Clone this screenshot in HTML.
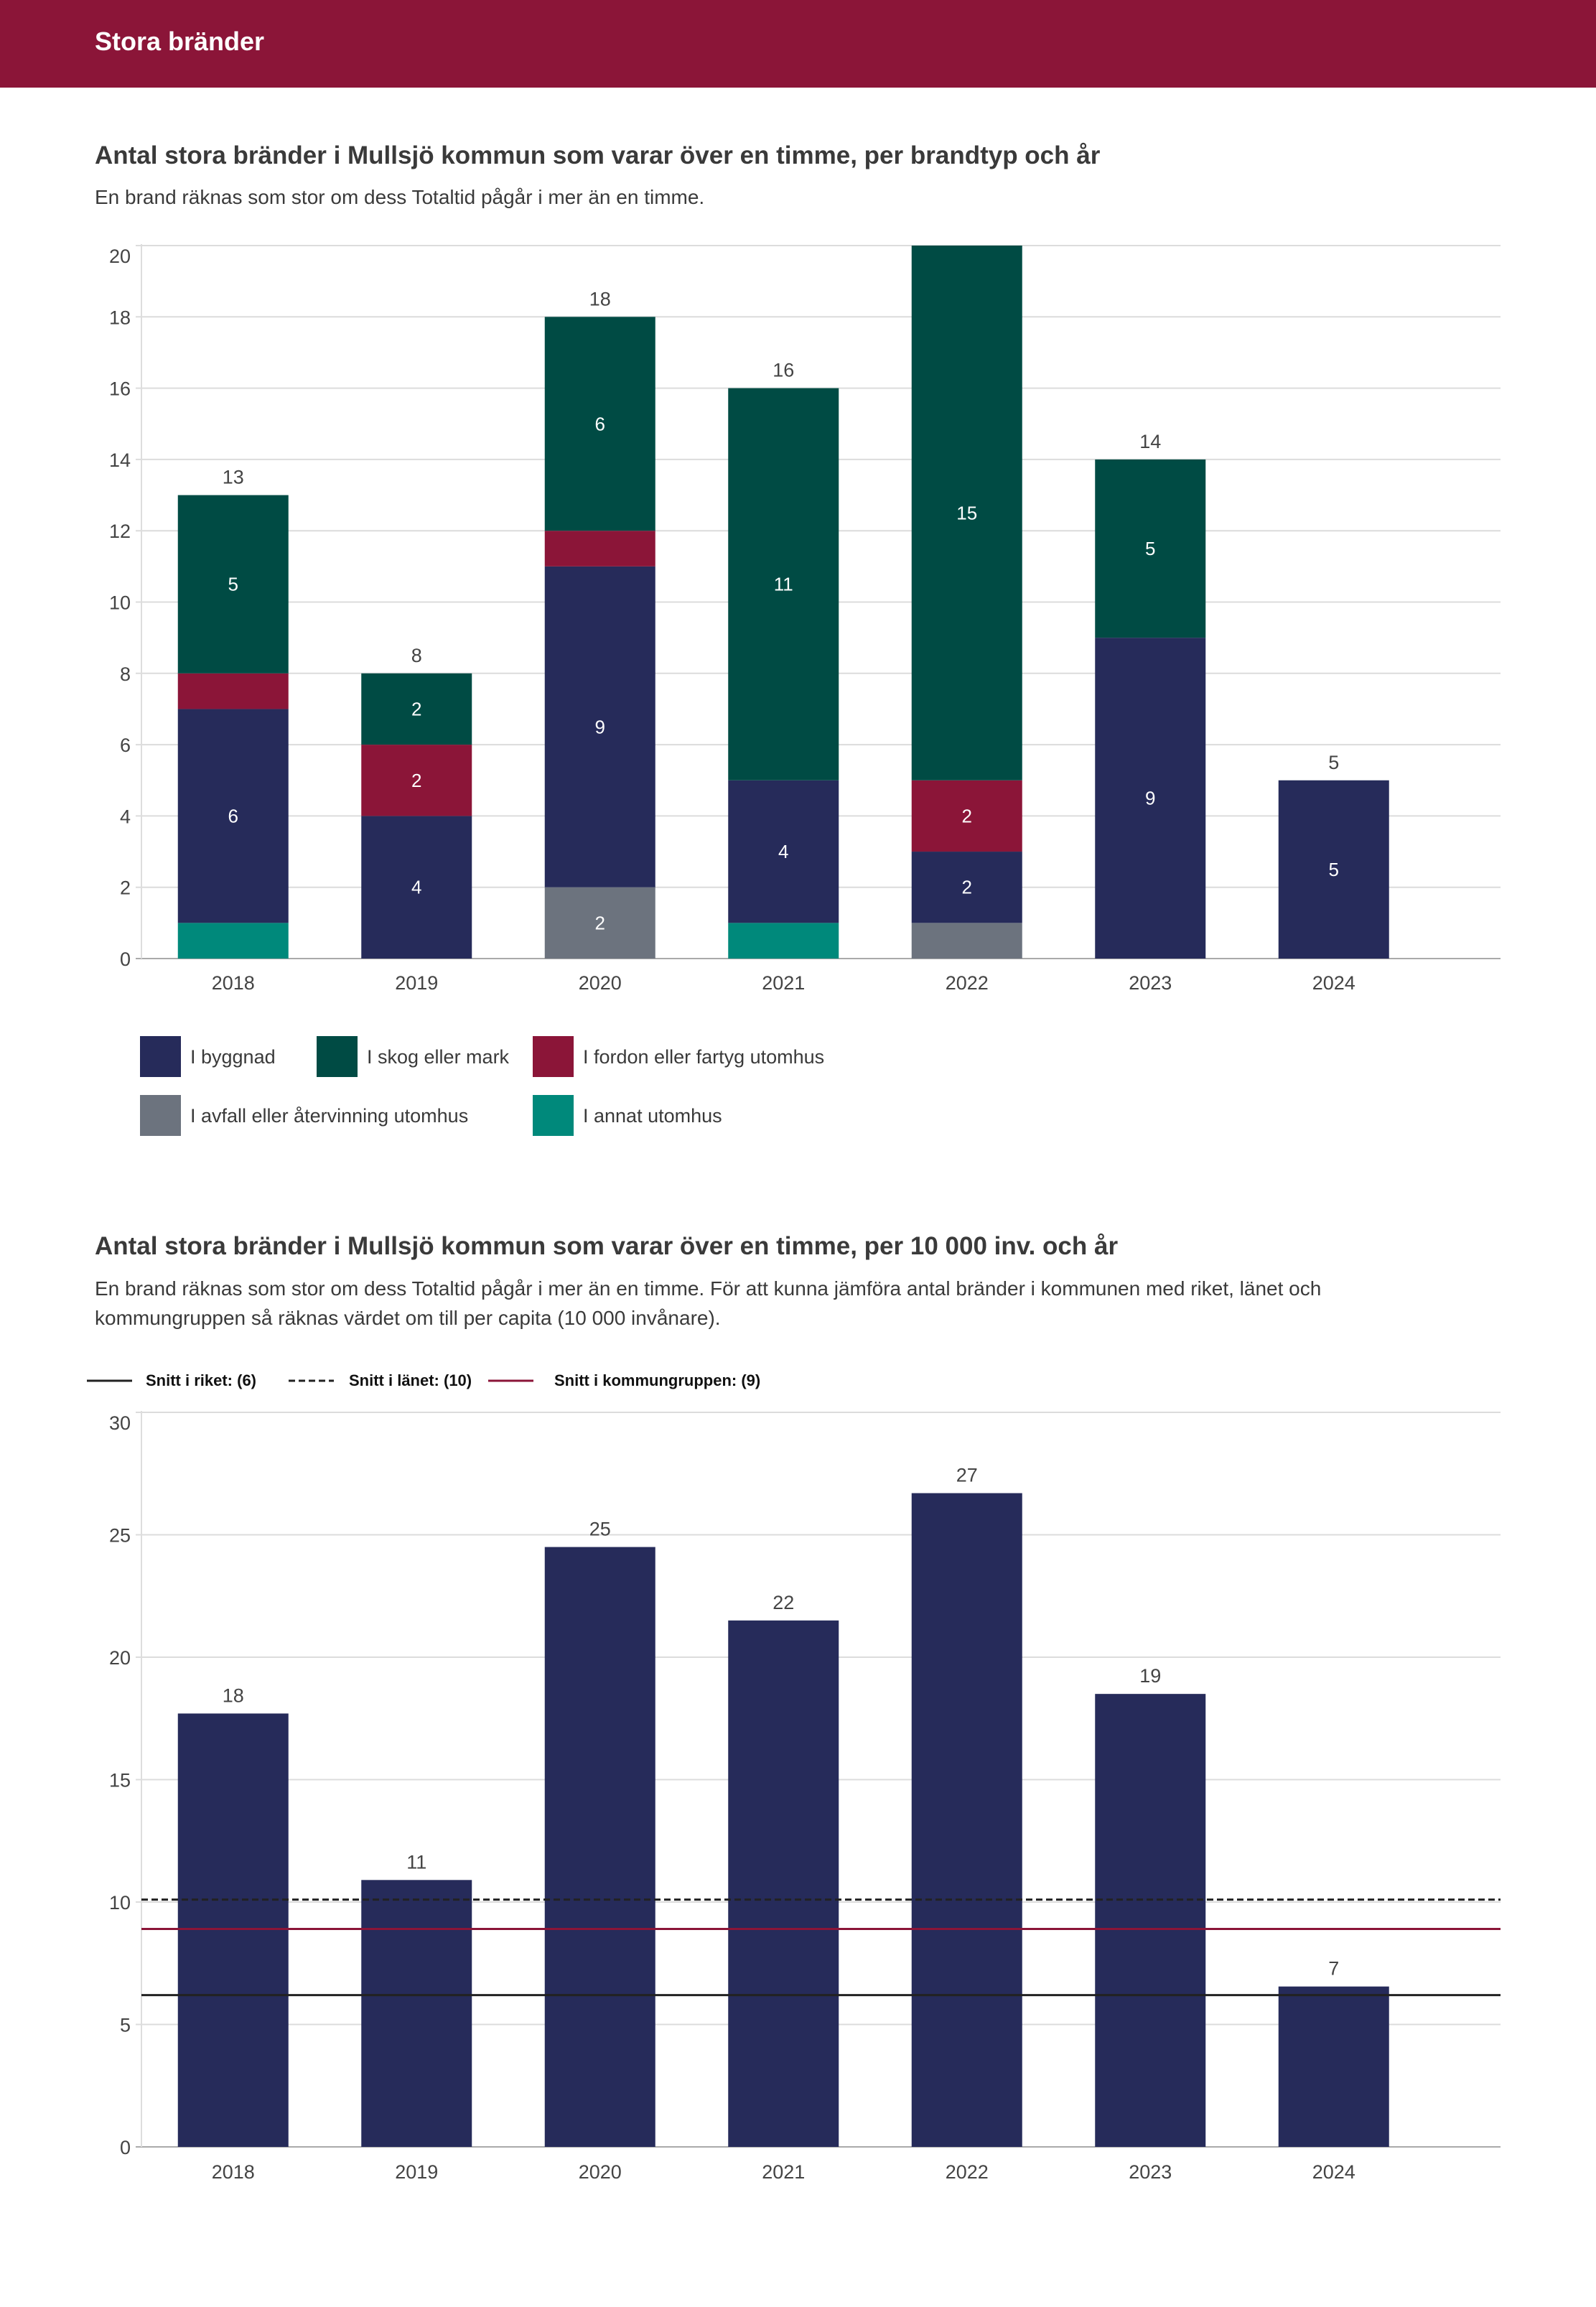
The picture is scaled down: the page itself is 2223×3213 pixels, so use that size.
<!DOCTYPE html>
<html><head><meta charset="utf-8">
<style>
html,body{margin:0;padding:0;background:#fff;}
svg{display:block;font-family:"Liberation Sans",sans-serif;}
</style></head>
<body>
<svg id="page" width="2223" height="3213" viewBox="0 0 2223 3213" xmlns="http://www.w3.org/2000/svg">
<rect x="0" y="0" width="2223" height="122" fill="#8B1538"/>
<text x="132" y="70" font-size="36" font-weight="bold" fill="#fff">Stora bränder</text>

<text x="132" y="228" font-size="35" font-weight="bold" fill="#3a3a3a">Antal stora bränder i Mullsjö kommun som varar över en timme, per brandtyp och år</text>
<text x="132" y="284" font-size="28" fill="#3a3a3a">En brand räknas som stor om dess Totaltid pågår i mer än en timme.</text>
<g id="c1"></g>
<g id="leg1"></g>

<text x="132" y="1747" font-size="35" font-weight="bold" fill="#3a3a3a">Antal stora bränder i Mullsjö kommun som varar över en timme, per 10 000 inv. och år</text>
<text x="132" y="1804" font-size="28" fill="#3a3a3a">En brand räknas som stor om dess Totaltid pågår i mer än en timme. För att kunna jämföra antal bränder i kommunen med riket, länet och</text>
<text x="132" y="1845" font-size="28" fill="#3a3a3a">kommungruppen så räknas värdet om till per capita (10 000 invånare).</text>
<g id="leg2"></g>
<g id="c2"></g>
</svg>
<script>
const years = ["2018","2019","2020","2021","2022","2023","2024"];
const seriesNames = ["I annat utomhus","I avfall eller återvinning utomhus","I byggnad","I fordon eller fartyg utomhus","I skog eller mark"];
const seriesColors = ["#00897B","#6C737E","#262B5A","#8B1538","#004B44"];
const annat  = [1,0,0,1,0,0,0];
const avfall = [0,0,2,0,1,0,0];
const byggnad= [6,4,9,4,2,9,5];
const fordon = [1,2,1,0,2,0,0];
const skog   = [5,2,6,11,15,5,0];
const ticks1 = [0,2,4,6,8,10,12,14,16,18,20];

const perCapita = [17.7,10.9,24.5,21.5,26.7,18.5,6.55];
const ticks2 = [0,5,10,15,20,25,30];
const snittRiket = 6.2;
const snittLanet = 10.1;
const snittGrupp = 8.9;

const NS="http://www.w3.org/2000/svg";
function mk(parent, tag, attrs, text){
  const e=document.createElementNS(NS,tag);
  for(const k in attrs) e.setAttribute(k,attrs[k]);
  if(text!==undefined) e.textContent=text;
  parent.appendChild(e); return e;
}
const L=197, R=2090, band=255.5, barW=154;
const xC = i => L + band*(i+0.5);

// Chart 1
const c1=document.getElementById('c1');
const y1 = v => 1335 - v*49.65;
ticks1.forEach((t,j)=>{
  const g=mk(c1,'line',{x1:L-8,x2:R,y1:y1(t),y2:y1(t),stroke:t===0?'#aaa':'#dcdcdc','stroke-width':2});
  
  
  const off = j===ticks1.length-1 ? 24 : 10;
  const tx=mk(c1,'text',{x:182,y:y1(t)+off,'font-size':27,fill:'#444','text-anchor':'end'},String(t));
  
  
});
const ax1=mk(c1,'line',{x1:L,x2:L,y1:y1(20)-2,y2:y1(0),stroke:'#ddd','stroke-width':2});


const stacks=[annat,avfall,byggnad,fordon,skog];
years.forEach((yr,i)=>{
  let base=0;
  stacks.forEach((s,k)=>{
    const v=s[i]; if(!v) return;
    const r=mk(c1,'rect',{x:xC(i)-barW/2,y:y1(base+v),width:barW,height:y1(base)-y1(base+v),fill:seriesColors[k]});
    
    
    if(v>=2){
      const t=mk(c1,'text',{x:xC(i),y:(y1(base)+y1(base+v))/2+9,'font-size':26,fill:'#fff','text-anchor':'middle'},String(v));
      
      
    }
    base+=v;
  });
  if(base<20){
    const t=mk(c1,'text',{x:xC(i),y:y1(base)-16,'font-size':27,fill:'#444','text-anchor':'middle'},String(base));
    
    
  }
  const xl=mk(c1,'text',{x:xC(i),y:1378,'font-size':27,fill:'#444','text-anchor':'middle'},yr);
  
  
});
// Legend 1 (order: byggnad, skog, fordon, avfall, annat)
const leg1=document.getElementById('leg1');
const legOrder=[2,4,3,1,0];
const legPos=[[195,1443],[441,1443],[742,1443],[195,1525],[742,1525]];
legOrder.forEach((k,j)=>{
  const [x,y]=legPos[j];
  const r=mk(leg1,'rect',{x:x,y:y,width:57,height:57,fill:seriesColors[k]});
  
  
  const t=mk(leg1,'text',{x:x+70,y:y+38,'font-size':27,fill:'#3a3a3a'},seriesNames[k]);
  
  
});

// Legend 2
const leg2=document.getElementById('leg2');
const l2=[[121,203,'#222','','Snitt i riket: (6)'],[402,486,'#222','9 5','Snitt i länet: (10)'],[680,772,'#8B1538','','Snitt i kommungruppen: (9)']];
l2.forEach(([x,tx,c,d,lab])=>{
  const a={x1:x,x2:x+63,y1:1923,y2:1923,stroke:c,'stroke-width':3};
  if(d) a['stroke-dasharray']=d;
  const ln=mk(leg2,'line',a);
  
  
  const t=mk(leg2,'text',{x:tx,y:1930,'font-size':22,'font-weight':'bold',fill:'#111'},lab);
  
  
});

// Chart 2
const c2=document.getElementById('c2');
const y2 = v => 2990 - v*34.1;
ticks2.forEach((t,j)=>{
  const g=mk(c2,'line',{x1:L-8,x2:R,y1:y2(t),y2:y2(t),stroke:t===0?'#aaa':'#dcdcdc','stroke-width':2});
  
  
  const off = j===ticks2.length-1 ? 24 : 10;
  const tx=mk(c2,'text',{x:182,y:y2(t)+off,'font-size':27,fill:'#444','text-anchor':'end'},String(t));
  
  
});
const ax2=mk(c2,'line',{x1:L,x2:L,y1:y2(30)-2,y2:y2(0),stroke:'#ddd','stroke-width':2});


years.forEach((yr,i)=>{
  const v=perCapita[i];
  const r=mk(c2,'rect',{x:xC(i)-barW/2,y:y2(v),width:barW,height:y2(0)-y2(v),fill:'#262B5A'});
  
  
  const t=mk(c2,'text',{x:xC(i),y:y2(v)-16,'font-size':27,fill:'#444','text-anchor':'middle'},String(Math.round(v)));
  
  
  const xl=mk(c2,'text',{x:xC(i),y:3034,'font-size':27,fill:'#444','text-anchor':'middle'},yr);
  
  
});
[[snittLanet,'#222','9 5','line-lanet'],[snittGrupp,'#8B1538','','line-kommungrupp'],[snittRiket,'#222','','line-riket']].forEach(([v,c,d,n])=>{
  const a={x1:L,x2:R,y1:y2(v),y2:y2(v),stroke:c,'stroke-width':3};
  if(d) a['stroke-dasharray']=d;
  const ln=mk(c2,'line',a);
  
  
});
</script>
</body></html>
